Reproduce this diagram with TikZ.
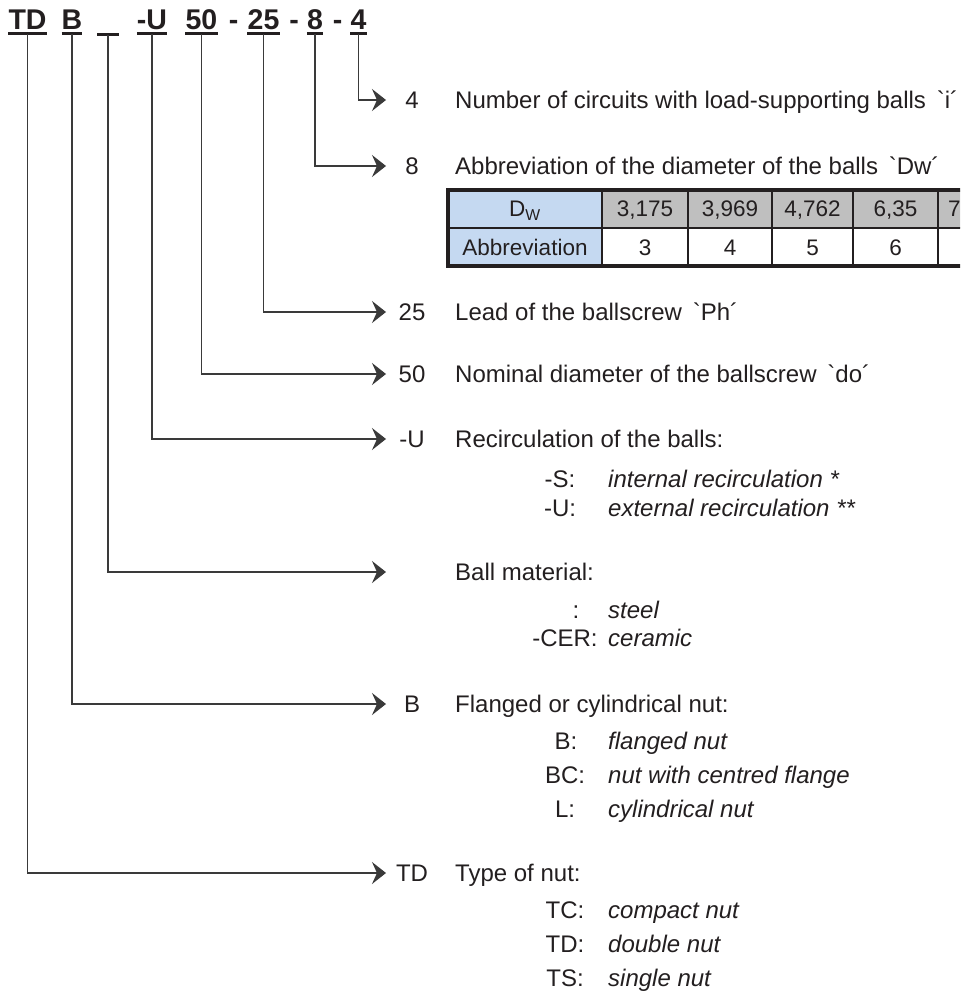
\documentclass[tikz,border=0pt]{standalone}
\usepackage{fontspec}
\setmainfont{Liberation Sans}[Ligatures=TeXOff]
\usetikzlibrary{arrows.meta}

\definecolor{ink}{HTML}{231F20}
\definecolor{leadgray}{HTML}{3A3A3A}
\definecolor{dwblue}{HTML}{C5D9F1}
\definecolor{cellgray}{HTML}{BFBFBF}

\begin{document}
\begin{tikzpicture}[
  x=1pt, y=-1pt,
  font=\fontsize{24}{28}\selectfont, text=ink,
  >={Stealth[length=14pt,width=22pt,inset=5pt]},
  code/.style={font=\bfseries\fontsize{28.5}{30}\selectfont, inner sep=0pt, anchor=base},
  uline/.style={line width=3pt, draw=ink},
  leader/.style={->, line width=1.3pt, draw=leadgray},
  key/.style={inner sep=0pt, anchor=base},
  desc/.style={inner sep=0pt, anchor=base west},
  opt/.style={inner sep=0pt, anchor=base west, font=\itshape\fontsize{24}{28}\selectfont},
  tcell/.style={inner sep=0pt, anchor=base, font=\fontsize{22.5}{26}\selectfont},
]
% Coordinate system: pixels of the sheet, y pointing down

\useasboundingbox (0,0) rectangle (960,992);
\clip (0,0) rectangle (960,992);
\fill[white] (0,0) rectangle (960,992);

% --- Designation code ---
\node[code] (hTD) at (27.5,30) {TD};
\node[code] (hB)  at (72,30)   {B};
\node[code, minimum width=21pt] (hX) at (108,30) {};
\node[code] (hU)  at (152,30)  {-U};
\node[code] (h50) at (201.5,30) {50};
\node[code] (d1)  at (233.5,30) {-};
\node[code] (h25) at (263.5,30) {25};
\node[code] (d2)  at (294,30)  {-};
\node[code] (h8)  at (315,30)  {8};
\node[code] (d3)  at (337.5,30) {-};
\node[code] (h4)  at (358.5,30) {4};

\foreach \n in {TD,B,X,U,50,25,8,4}
  \draw[uline] ([yshift=-3.5pt]h\n.south west) -- ([yshift=-3.5pt]h\n.south east);

% --- Leaders ---
\foreach \n/\y in {4/100, 8/166, 25/312, 50/374, U/439, X/572, B/704, TD/873} {
  \coordinate (t\n) at (386,\y);
  \draw[leader] ([yshift=-4pt]h\n.south) |- (t\n);
}

% --- Code letters ---
\foreach \n/\t/\y in {4/4/100, 8/8/166, 25/25/312, 50/50/374, U/-U/439, B/B/704, TD/TD/873}
  \node[key] (c\n) at (412,\y+8.6) {\t};

% --- Descriptions ---
\node[desc] (e4)  at (455,108.6) {Number of circuits with load-supporting balls\hspace{0.45em}`i´};
\node[desc] (e8)  at (455,174.6) {Abbreviation of the diameter of the balls\hspace{0.45em}`Dw´};
\node[desc] (e25) at (455,320.6) {Lead of the ballscrew\hspace{0.45em}`Ph´};
\node[desc] (e50) at (455,382.6) {Nominal diameter of the ballscrew\hspace{0.45em}`do´};
\node[desc] (eU)  at (455,447.6) {Recirculation of the balls:};
\node[desc] (eX)  at (455,580.6) {Ball material:};
\node[desc] (eB)  at (455,712.6) {Flanged or cylindrical nut:};
\node[desc] (eTD) at (455,881.6) {Type of nut:};

% --- Options ---
\foreach \n/\k/\cx/\y/\v in {
    S/-S:/560/479/internal recirculation *,
    U/-U:/560/508/external recirculation **,
    ST/:/576/610/steel,
    CER/-CER:/565/638/ceramic,
    B/B:/566/741/flanged nut,
    BC/BC:/565/775/nut with centred flange,
    L/L:/565/809/cylindrical nut,
    TC/TC:/565/910/compact nut,
    TD/TD:/565/944/double nut,
    TS/TS:/565/978/single nut} {
  \node[key] (k\n) at (\cx,\y+8.6) {\k};
  \node[opt] (v\n) at (608,\y+8.6) {\v};
}

% --- Table of ball diameters ---
\fill[dwblue] (448,190) rectangle (602,266);
\fill[cellgray] (602,190) rectangle (1022,228);
\node[tcell] (dwH) at (525,217) {D\textsubscript{W}};
\node[tcell] (abH) at (525,255) {Abbreviation};
\foreach \xl/\xr/\dw/\ab [count=\i] in {602/688/{3,175}/3, 688/772/{3,969}/4,
                                        772/853/{4,762}/5, 853/938/{6,35}/6} {
  \node[tcell] (dw\i) at ({(\xl+\xr)/2},217) {\dw};
  \node[tcell] (ab\i) at ({(\xl+\xr)/2},255) {\ab};
}
\node[tcell, anchor=base west] (dw5) at (948,217) {7};

\foreach \xv in {602,688,772,853,938}
  \draw[line width=2.5pt, ink] (\xv,190) -- (\xv,266);
\draw[line width=2.5pt, ink] (448,228) -- (1022,228);
\draw[line width=3.5pt, ink] (448,190) rectangle (1022,266);

\end{tikzpicture}
\end{document}
